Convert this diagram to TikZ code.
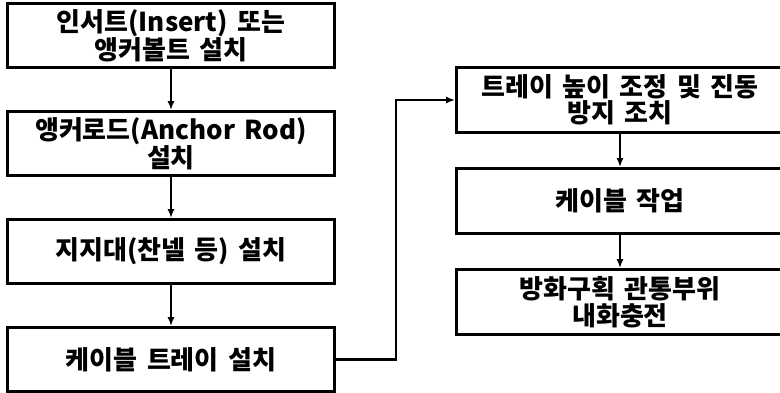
\documentclass[tikz,border=0pt]{standalone}
\usepackage{fontspec}
\setmainfont{Noto Sans CJK KR}[BoldFont={Noto Sans CJK KR Black}, WordSpace=1.6]
\usepackage{tikz}
\usetikzlibrary{arrows.meta}

\begin{document}
\begin{tikzpicture}[
    ->, >={Latex[length=9pt,width=7pt]}, line width=2.2pt, node distance=108pt,
    every node/.style={draw, rectangle, align=center, line width=2.8pt, minimum width=327pt, minimum height=64pt, font=\fontsize{26}{26.5}\selectfont\bfseries}
]
\useasboundingbox (0,0) rectangle (780pt,-393pt);
\node (insert_anchor_bolt) at (171pt,-35.5pt) {인서트(Insert) 또는\\앵커볼트 설치};
\node (anchor_rod) [below of=insert_anchor_bolt] {앵커로드(Anchor Rod)\\설치};
\node (support_channel) [below of=anchor_rod] {지지대(찬넬 등) 설치};
\node (cable_tray) [below of=support_channel] {케이블 트레이 설치};
\node (tray_height) [minimum height=65pt] at (620pt,-100pt) {트레이 높이 조정 및 진동\\방지 조치};
\node (cable_work) [below of=tray_height, node distance=101pt, minimum height=65pt] {케이블 작업};
\node (fire_seal) [below of=cable_work, node distance=101pt, minimum height=65pt] {방화구획 관통부위\\내화충전};

\draw[->] (insert_anchor_bolt) -- (anchor_rod);
\draw[->] (anchor_rod) -- (support_channel);
\draw[->] (support_channel) -- (cable_tray);
\draw[->] (cable_tray.east) --++(60pt,0) |- (tray_height.west);
\draw[->] (tray_height) -- (cable_work);
\draw[->] (cable_work) -- (fire_seal);
\end{tikzpicture}
\end{document}
